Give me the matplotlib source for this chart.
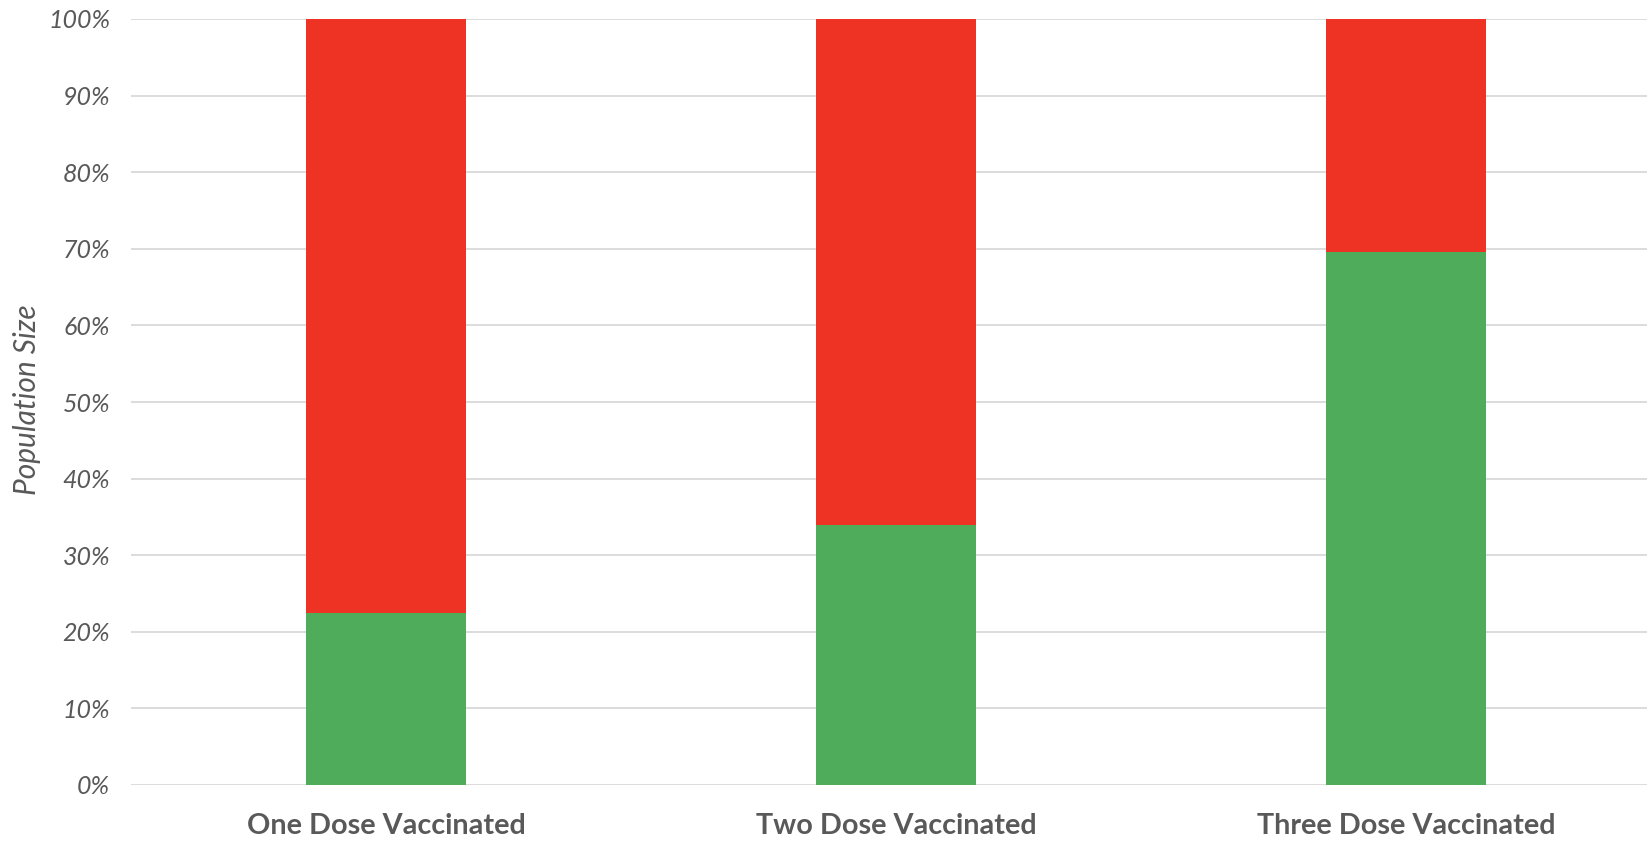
import matplotlib
matplotlib.use("Agg")
import matplotlib.pyplot as plt
from matplotlib.ticker import PercentFormatter, MultipleLocator

categories = ["One Dose Vaccinated", "Two Dose Vaccinated", "Three Dose Vaccinated"]
vaccinated_share = [22.4, 33.9, 69.6]
remaining_share = [100 - v for v in vaccinated_share]

green = "#4FAC5B"
red = "#EE3224"
text_gray = "#595959"

fig = plt.figure(figsize=(16.47, 8.48), dpi=100)
ax = fig.add_axes([131 / 1647, 1 - 785 / 848, (1647 - 131) / 1647, (785 - 19) / 848])

x = list(range(len(categories)))
ax.bar(x, vaccinated_share, width=0.314, color=green, zorder=3)
ax.bar(x, remaining_share, bottom=vaccinated_share, width=0.314, color=red, zorder=3)

ax.set_xlim(-0.5, (1647 - 131) / 510 - 0.5)
ax.set_ylim(0, 100)
ax.yaxis.set_major_locator(MultipleLocator(10))
ax.yaxis.set_major_formatter(PercentFormatter(decimals=0))
ax.grid(axis="y", color="#D9D9D9", linewidth=1.3, zorder=0)
ax.set_axisbelow(True)
for s in ax.spines.values():
    s.set_visible(False)
ax.tick_params(length=0)
ax.tick_params(axis="y", pad=15)
ax.tick_params(axis="x", pad=20)

ax.set_xticks(x)
ax.set_xticklabels(categories, fontfamily="Lato", fontweight="bold",
                   fontsize=20.7, color=text_gray)
for lbl in ax.get_yticklabels():
    lbl.set_fontfamily("Lato")
    lbl.set_fontstyle("italic")
    lbl.set_fontsize(18)
    lbl.set_color(text_gray)

fig.text(27 / 1647, 1 - 400 / 848, "Population Size", rotation=90,
         ha="center", va="center", fontfamily="Lato", fontstyle="italic",
         fontsize=21.5, color=text_gray)

fig.savefig("out.png", dpi=100, facecolor="white")
